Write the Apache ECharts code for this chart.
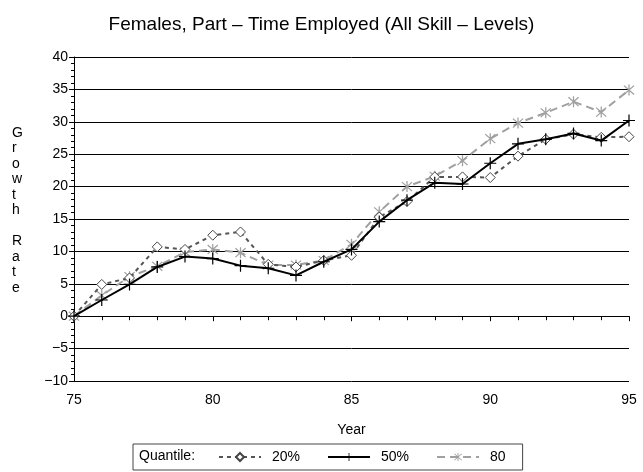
<!DOCTYPE html>
<html>
<head>
<meta charset="utf-8">
<style>
    html, body { margin: 0; padding: 0; background: #fff; }
    #chart { width: 643px; height: 472px; }
</style>
<script src="https://cdn.jsdelivr.net/npm/echarts@6/dist/echarts.min.js"></script>
</head>
<body>
<div id="chart"></div>
<script>
    // 年份 (19xx)
    var years = [75, 76, 77, 78, 79, 80, 81, 82, 83, 84, 85, 86, 87, 88, 89, 90, 91, 92, 93, 94, 95];
    // 三个分位数
    var q20 = [0, 4.9, 5.9, 10.7, 10.3, 12.5, 13.0, 8.0, 7.6, 8.6, 9.4, 15.3, 17.7, 21.5, 21.5, 21.4, 24.7, 27.3, 28.1, 27.6, 27.7];
    var q50 = [0, 2.5, 4.9, 7.6, 9.2, 8.9, 7.8, 7.4, 6.3, 8.4, 10.3, 14.6, 17.9, 20.6, 20.4, 23.6, 26.6, 27.3, 28.2, 27.1, 30.2];
    var q80 = [0, 3.2, 6.1, 7.7, 9.9, 10.3, 9.8, 7.9, 7.9, 8.6, 11.1, 16.1, 20.0, 21.6, 24.0, 27.4, 29.8, 31.4, 33.1, 31.5, 34.9];
    var legendNames = ['20%', '50%', '80'];

    (function () {
        let chart = echarts.init(document.querySelector("#chart"));
        const font = "'Liberation Sans', Arial, sans-serif";

        // 自定义符号：加号和星号
        const plusPath = 'path://M4.5,0h1v10h-1z M0,4.5h10v1h-10z';
        const starPath = 'path://M4.5,0h1v10h-1z M0.6,1.3 L1.3,0.6 L9.4,8.7 L8.7,9.4z M8.7,0.6 L9.4,1.3 L1.3,9.4 L0.6,8.7z';

        function pairs(arr) {
            return years.map((y, i) => [y, arr[i]]);
        }

        let option = {
            animation: false,
            textStyle: { fontFamily: font },
            title: {
                text: 'Females, Part – Time Employed (All Skill – Levels)',
                left: 'center',
                top: 10,
                textStyle: { fontFamily: font, fontSize: 19, fontWeight: 'normal', color: '#000' }
            },
            legend: {
                left: 133,
                top: 444,
                padding: [6, 17, 6, 85],
                borderColor: '#444',
                borderWidth: 1,
                itemWidth: 42,
                itemHeight: 10,
                itemGap: 27,
                data: legendNames,
                textStyle: { fontFamily: font, fontSize: 14, color: '#000', padding: [0, 0, 0, 6] }
            },
            graphic: [
                {
                    type: 'text',
                    left: 139,
                    top: 449,
                    style: { text: 'Quantile:', font: '14px ' + font, fill: '#000' }
                },
                {
                    type: 'text',
                    left: 12,
                    top: 125,
                    style: {
                        text: 'G\nr\no\nw\nt\nh\n\nR\na\nt\ne',
                        font: '14px ' + font,
                        lineHeight: 15.5,
                        align: 'center',
                        fill: '#000'
                    }
                }
            ],
            grid: {
                left: 74,
                right: 14,
                top: 57,
                bottom: 91
            },
            xAxis: {
                type: 'value',
                min: 75,
                max: 95,
                interval: 5,
                name: 'Year',
                nameLocation: 'middle',
                nameGap: 42,
                nameTextStyle: { fontFamily: font, fontSize: 14, color: '#000' },
                axisLine: { lineStyle: { color: '#000' } },
                axisTick: { length: 5, lineStyle: { color: '#000' } },
                minorTick: { show: true, splitNumber: 5, length: 4, lineStyle: { color: '#000' } },
                axisLabel: { color: '#000', fontSize: 14, margin: 12 },
                splitLine: { show: false }
            },
            yAxis: {
                type: 'value',
                min: -10,
                max: 40,
                interval: 5,
                axisLine: { show: true, lineStyle: { color: '#000' } },
                axisTick: { show: true, length: 5, lineStyle: { color: '#000' } },
                minorTick: { show: true, splitNumber: 5, length: 3, lineStyle: { color: '#000' } },
                axisLabel: {
                    color: '#000',
                    fontSize: 14,
                    margin: 6,
                    formatter: v => v < 0 ? '\u2212' + Math.abs(v) : String(v)
                },
                splitLine: { lineStyle: { color: '#000', width: 1 } }
            },
            series: [
                {
                    name: '20%',
                    type: 'line',
                    z: 3,
                    data: pairs(q20),
                    symbol: 'diamond',
                    symbolSize: 10,
                    lineStyle: { color: '#555', width: 2, type: [4, 4] },
                    itemStyle: { color: '#fff', borderColor: '#444', borderWidth: 1 }
                },
                {
                    name: '50%',
                    type: 'line',
                    z: 4,
                    data: pairs(q50),
                    symbol: plusPath,
                    symbolSize: 12,
                    lineStyle: { color: '#000', width: 2 },
                    itemStyle: { color: '#000' }
                },
                {
                    name: '80',
                    type: 'line',
                    z: 2,
                    data: pairs(q80),
                    symbol: starPath,
                    symbolSize: 11,
                    lineStyle: { color: '#a0a0a0', width: 2, type: [8, 5] },
                    itemStyle: { color: '#a0a0a0' }
                }
            ]
        };
        chart.setOption(option);
    })();
</script>
</body>
</html>
